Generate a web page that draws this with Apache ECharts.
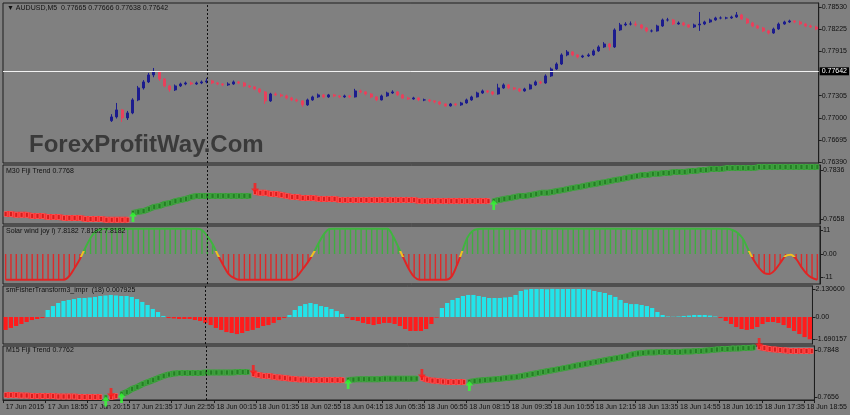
<!DOCTYPE html>
<html><head><meta charset="utf-8">
<script src="https://cdn.jsdelivr.net/npm/echarts@6/dist/echarts.min.js"></script>
<style>html,body{margin:0;padding:0;background:#808080;}#c{width:850px;height:415px;}</style>
</head><body><div id="c"></div>
<script>
// ---------- data ----------
const barCount = 154;            // 10-minute bars from 17 Jun 17:35
const startDay = 17, startMinute = 17 * 60 + 35, stepMinutes = 10;
const xTickLabels = ['17 Jun 2015','17 Jun 18:55','17 Jun 20:15','17 Jun 21:35','17 Jun 22:55','18 Jun 00:15','18 Jun 01:35','18 Jun 02:55','18 Jun 04:15','18 Jun 05:35','18 Jun 06:55','18 Jun 08:15','18 Jun 09:35','18 Jun 10:55','18 Jun 12:15','18 Jun 13:35','18 Jun 14:55','18 Jun 16:15','18 Jun 17:35','18 Jun 18:55'];
const labelEvery = 8;
const cursorBar = 38;

// AUDUSD M5 candles [open, close, low, high], first candle at bar 20
const candleStart = 20;
const candles = [
[0.76960,0.77012,0.76943,0.77050],[0.77012,0.77109,0.76990,0.77205],[0.77109,0.76998,0.76943,0.77120],[0.76998,0.77067,0.76970,0.77095],
[0.77067,0.77247,0.77050,0.77270],[0.77247,0.77412,0.77230,0.77440],[0.77412,0.77495,0.77390,0.77520],[0.77495,0.77592,0.77480,0.77620],
[0.77592,0.77633,0.77560,0.77688],[0.77633,0.77536,0.77510,0.77650],[0.77536,0.77440,0.77420,0.77550],[0.77440,0.77385,0.77360,0.77455],
[0.77385,0.77440,0.77370,0.77460],[0.77440,0.77467,0.77425,0.77485],[0.77467,0.77481,0.77450,0.77500],[0.77481,0.77467,0.77450,0.77500],
[0.77467,0.77481,0.77455,0.77500],[0.77481,0.77495,0.77465,0.77515],[0.77495,0.77509,0.77475,0.77545],[0.77509,0.77481,0.77465,0.77525],
[0.77481,0.77467,0.77450,0.77495],[0.77467,0.77454,0.77435,0.77480],[0.77454,0.77467,0.77440,0.77490],[0.77467,0.77495,0.77455,0.77515],
[0.77495,0.77481,0.77465,0.77510],[0.77481,0.77440,0.77425,0.77495],[0.77440,0.77426,0.77410,0.77455],[0.77426,0.77398,0.77380,0.77440],
[0.77398,0.77357,0.77340,0.77410],[0.77357,0.77233,0.77191,0.77370],[0.77233,0.77329,0.77220,0.77345],[0.77329,0.77316,0.77300,0.77350],
[0.77316,0.77302,0.77285,0.77335],[0.77302,0.77274,0.77255,0.77320],[0.77274,0.77247,0.77230,0.77290],[0.77247,0.77233,0.77215,0.77265],
[0.77233,0.77178,0.77150,0.77245],[0.77178,0.77247,0.77165,0.77265],[0.77247,0.77288,0.77235,0.77305],[0.77288,0.77316,0.77275,0.77335],
[0.77316,0.77288,0.77270,0.77330],[0.77288,0.77316,0.77275,0.77330],[0.77316,0.77302,0.77285,0.77330],[0.77302,0.77288,0.77270,0.77315],
[0.77288,0.77302,0.77275,0.77320],[0.77302,0.77288,0.77270,0.77315],[0.77288,0.77371,0.77280,0.77400],[0.77371,0.77357,0.77340,0.77390],
[0.77357,0.77329,0.77310,0.77370],[0.77329,0.77288,0.77270,0.77340],[0.77288,0.77247,0.77230,0.77300],[0.77247,0.77302,0.77240,0.77320],
[0.77302,0.77343,0.77290,0.77360],[0.77343,0.77357,0.77330,0.77380],[0.77357,0.77316,0.77300,0.77370],[0.77316,0.77274,0.77260,0.77330],
[0.77274,0.77260,0.77245,0.77290],[0.77260,0.77274,0.77250,0.77290],[0.77274,0.77247,0.77230,0.77285],[0.77247,0.77247,0.77230,0.77265],
[0.77247,0.77233,0.77215,0.77260],[0.77233,0.77219,0.77200,0.77245],[0.77219,0.77191,0.77175,0.77230],[0.77191,0.77164,0.77150,0.77200],
[0.77164,0.77191,0.77155,0.77205],[0.77191,0.77178,0.77160,0.77205],[0.77178,0.77205,0.77165,0.77220],[0.77205,0.77247,0.77195,0.77265],
[0.77247,0.77288,0.77235,0.77305],[0.77288,0.77343,0.77280,0.77360],[0.77343,0.77371,0.77330,0.77390],[0.77371,0.77357,0.77340,0.77385],
[0.77357,0.77329,0.77310,0.77370],[0.77329,0.77412,0.77320,0.77470],[0.77412,0.77454,0.77400,0.77475],[0.77454,0.77412,0.77395,0.77465],
[0.77412,0.77398,0.77380,0.77425],[0.77398,0.77371,0.77355,0.77410],[0.77371,0.77398,0.77360,0.77415],[0.77398,0.77454,0.77390,0.77470],
[0.77454,0.77495,0.77440,0.77515],[0.77495,0.77481,0.77465,0.77510],[0.77481,0.77578,0.77470,0.77600],[0.77578,0.77674,0.77565,0.77695],
[0.77674,0.77743,0.77660,0.77765],[0.77743,0.77868,0.77730,0.77890],[0.77868,0.77909,0.77850,0.77935],[0.77909,0.77868,0.77850,0.77920],
[0.77868,0.77840,0.77820,0.77880],[0.77840,0.77854,0.77825,0.77870],[0.77854,0.77868,0.77840,0.77890],[0.77868,0.77923,0.77855,0.77945],
[0.77923,0.77978,0.77910,0.78000],[0.77978,0.78019,0.77965,0.78045],[0.78019,0.77978,0.77930,0.78030],[0.77978,0.78213,0.77965,0.78235],
[0.78213,0.78282,0.78200,0.78310],[0.78282,0.78295,0.78265,0.78320],[0.78295,0.78295,0.78275,0.78330],[0.78295,0.78282,0.78260,0.78330],
[0.78282,0.78240,0.78220,0.78295],[0.78240,0.78199,0.78180,0.78255],[0.78199,0.78199,0.78180,0.78220],[0.78199,0.78268,0.78190,0.78285],
[0.78268,0.78351,0.78255,0.78370],[0.78351,0.78351,0.78330,0.78380],[0.78351,0.78295,0.78280,0.78365],[0.78295,0.78309,0.78285,0.78330],
[0.78309,0.78282,0.78265,0.78325],[0.78282,0.78254,0.78240,0.78295],[0.78254,0.78282,0.78240,0.78300],[0.78282,0.78295,0.78200,0.78461],
[0.78295,0.78323,0.78280,0.78340],[0.78323,0.78351,0.78310,0.78370],[0.78351,0.78378,0.78340,0.78395],[0.78378,0.78378,0.78360,0.78400],
[0.78378,0.78378,0.78360,0.78395],[0.78378,0.78392,0.78365,0.78410],[0.78392,0.78420,0.78380,0.78460],[0.78420,0.78364,0.78350,0.78435],
[0.78364,0.78309,0.78295,0.78380],[0.78309,0.78268,0.78250,0.78325],[0.78268,0.78240,0.78225,0.78285],[0.78240,0.78199,0.78185,0.78255],
[0.78199,0.78171,0.78150,0.78215],[0.78171,0.78226,0.78160,0.78245],[0.78226,0.78295,0.78215,0.78315],[0.78295,0.78323,0.78285,0.78340],
[0.78323,0.78337,0.78310,0.78355],[0.78337,0.78323,0.78305,0.78350],[0.78323,0.78295,0.78280,0.78340],[0.78295,0.78268,0.78250,0.78310],
[0.78268,0.78254,0.78240,0.78285],[0.78254,0.78226,0.78210,0.78270]
];
const lastPrice = 0.77642;
const mainYTicks = [0.78530,0.78225,0.77915,0.77305,0.77000,0.76695,0.76390];

// M30 Fiji Trend
const fiji30 = [
0.7676,0.7676,0.7673,0.7673,0.7673,0.7669,0.7669,0.7669,0.7665,0.7665,0.7665,0.7662,0.7662,
0.7662,0.7662,0.7658,0.7658,0.7658,0.7658,0.7655,0.7655,0.7655,0.7655,0.7655,
0.7680,0.7684,0.7687,0.7694,0.7702,0.7705,0.7713,0.7716,0.7723,0.7727,0.7731,
0.7738,0.7742,0.7742,0.7742,0.7742,0.7742,0.7742,0.7742,0.7742,0.7742,0.7742,0.7742,
0.7756,0.7753,0.7753,0.7749,0.7749,0.7745,
0.7742,0.7738,0.7738,0.7734,0.7734,0.7734,0.7731,0.7731,
0.7731,0.7731,0.7727,0.7727,0.7727,0.7727,0.7727,0.7727,0.7727,0.7727,0.7727,0.7727,0.7727,0.7727,0.7727,0.7727,0.7727,
0.7723,0.7723,0.7723,0.7723,0.7723,0.7723,0.7723,0.7723,0.7723,0.7723,0.7723,0.7723,0.7723,0.7723,
0.7723,
0.7727,0.7731,0.7734,0.7738,0.7742,0.7742,0.7745,
0.7749,0.7753,0.7753,0.7756,0.7760,0.7763,0.7767,
0.7771,0.7774,0.7778,0.7782,0.7785,0.7789,0.7792,0.7796,0.7800,
0.7803,0.7807,0.7811,0.7814,0.7818,0.7818,0.7822,0.7822,0.7825,0.7825,
0.7829,0.7829,0.7829,0.7832,0.7832,0.7836,0.7836,0.7840,0.7840,0.7840,
0.7843,0.7843,0.7843,0.7843,0.7843,0.7843,
0.7847,0.7847,0.7847,0.7847,0.7847,0.7847,0.7847,0.7847,0.7847,0.7847,0.7847,0.7847
];
const fiji30StartDir = 'down';
const fiji30Signals = [[24,'up'],[47,'down'],[92,'up']];
const fiji30YTicks = [0.7836, 0.7658];

// Solar wind joy
const solar = [
-12,-12,-12,-12,-12,-12,-12,-12,-12,-12,-12,-12,
-10.3,-6.5,-2.3,2.8,7.5,10.7,11.7,
11.8,11.8,11.8,11.8,11.8,11.8,11.8,11.8,11.8,11.8,11.8,11.8,11.8,11.8,11.8,11.8,11.8,11.8,
11.2,8.4,4.7,-0.5,-5.1,-9.3,-11.2,
-12,-12,-12,-12,-12,-12,-12,-12,-12,-12,-12,
-10.3,-7.0,-3.7,0.3,5.1,9.3,11.7,
11.8,11.8,11.8,11.8,11.8,11.8,11.8,11.8,11.8,11.8,11.8,
8.4,3.3,-1.9,-7.0,-10.7,
-12,-12,-12,-12,-12,-12,
-10.7,-5.6,0.9,7.5,10.7,11.7,
11.8,11.8,11.8,11.8,11.8,11.8,11.8,11.8,11.8,11.8,11.8,11.8,11.8,11.8,11.8,11.8,11.8,11.8,11.8,11.8,11.8,11.8,11.8,11.8,
11.8,11.8,11.8,11.8,11.8,11.8,11.8,11.8,11.8,11.8,11.8,11.8,11.8,11.8,11.8,11.8,11.8,11.8,11.8,11.8,11.8,11.8,11.8,
11.2,9.8,7.0,1.9,-2.8,-6.5,-8.9,-9.3,-7.5,-4.2,-0.9,-0.3,-2.3,-6.1,-9.3,-11.2,-12
];
const solarYTicks = [11, 0, -11];
const solarYLabels = ['11', '0.00', '-11'];

// smFisherTransform3_impr (18)
const fisher = [
-0.98,-0.83,-0.68,-0.53,-0.38,-0.23,-0.15,-0.08,
0.53,0.83,1.06,1.21,1.29,1.36,1.44,1.44,1.48,1.52,1.59,1.63,1.67,1.63,1.59,1.59,1.52,1.36,1.14,0.91,0.61,0.38,0.08,
-0.08,-0.11,-0.15,-0.15,-0.15,-0.23,-0.30,-0.45,-0.61,-0.83,-0.98,-1.14,-1.21,-1.29,-1.21,-1.06,-0.98,-0.83,-0.68,-0.61,-0.45,-0.23,-0.08,
0.15,0.53,0.83,0.98,1.06,0.98,0.83,0.76,0.61,0.45,0.23,
-0.08,-0.23,-0.30,-0.45,-0.53,-0.61,-0.53,-0.45,-0.45,-0.53,-0.68,-0.91,-1.06,-1.06,-1.06,-0.91,-0.53,-0.05,
0.68,1.06,1.29,1.44,1.59,1.67,1.67,1.59,1.52,1.44,1.44,1.44,1.48,1.52,1.67,1.97,2.08,2.12,
2.12,2.12,2.10,2.1306,2.12,2.12,2.12,2.12,2.12,2.12,
2.08,1.97,1.89,1.82,1.67,1.52,1.29,1.06,0.98,0.98,0.91,0.83,0.68,0.38,0.15,0.04,0.02,0.04,0.08,0.11,0.15,0.15,0.15,0.11,0.04,
-0.08,-0.30,-0.53,-0.76,-0.91,-0.98,-0.91,-0.76,-0.53,-0.38,-0.38,-0.45,-0.61,-0.83,-1.06,-1.29,-1.52,-1.690157
];
const fisherYTicks = [2.130600, 0, -1.690157];
const fisherYLabels = ['2.130600', '0.00', '-1.690157'];

// M15 Fiji Trend
const fiji15 = [
0.7664,0.7664,0.7664,0.7662,0.7662,0.7660,0.7660,0.7660,0.7660,0.7660,0.7658,0.7658,0.7658,0.7658,0.7656,0.7656,0.7656,0.7656,0.7656,
0.7654,0.7656,0.7660,0.7668,0.7676,0.7689,0.7697,0.7709,0.7717,0.7725,0.7734,0.7742,0.7748,0.7752,0.7754,
0.7754,0.7754,0.7754,0.7754,0.7756,0.7756,0.7756,0.7756,0.7756,0.7756,0.7758,0.7758,0.7758,
0.7750,0.7746,0.7742,0.7742,0.7738,0.7736,0.7734,0.7731,0.7729,
0.7727,0.7727,0.7725,0.7725,0.7725,0.7725,0.7725,0.7725,0.7725,
0.7725,0.7727,0.7729,0.7729,0.7729,0.7729,0.7729,0.7731,0.7731,0.7731,0.7731,0.7731,0.7731,0.7731,
0.7734,0.7727,0.7723,0.7721,0.7719,0.7717,0.7717,0.7717,0.7717,
0.7717,0.7721,0.7723,0.7725,0.7727,0.7729,0.7731,0.7734,0.7736,0.7738,0.7742,0.7746,0.7750,0.7754,0.7758,0.7762,0.7766,
0.7770,0.7774,0.7778,0.7783,0.7787,0.7791,0.7795,0.7799,0.7803,0.7807,0.7811,0.7815,0.7819,0.7823,0.7830,0.7834,0.7836,
0.7838,0.7838,0.7840,0.7840,0.7840,0.7840,0.7840,0.7842,0.7842,0.7844,0.7844,0.7846,0.7848,0.7850,0.7852,0.7852,0.7854,0.7854,
0.7856,0.7856,0.7858,0.7860,0.7856,0.7852,0.7850,0.7848,0.7846,0.7844,0.7844,0.7844,0.7844,0.7844
];
const fiji15StartDir = 'down';
const fiji15Signals = [[19,'up'],[20,'down'],[22,'up'],[47,'down'],[65,'up'],[79,'down'],[88,'up'],[143,'down']];
const fiji15YTicks = [0.7848, 0.7656];

// ---------- build ----------
const MON = 'Jun';
const cats = [];
for (let i = 0; i < barCount; i++) {
  let m = startMinute + i * stepMinutes, d = startDay;
  while (m >= 1440) { m -= 1440; d++; }
  const hh = String(Math.floor(m / 60)).padStart(2, '0'), mm = String(m % 60).padStart(2, '0');
  cats.push(d + ' ' + MON + ' ' + hh + ':' + mm);
}
const candleData = cats.map((c, i) => i < candleStart ? '-' : candles[i - candleStart]);

function splitTrend(values, startDir, signals) {
  const up = values.map(() => '-'), dn = values.map(() => '-'), arrows = [];
  let dir = startDir, s = 0;
  values.forEach((v, i) => {
    if (s < signals.length && signals[s][0] === i) {
      dir = signals[s][1]; s++;
      arrows.push({ value: [i, v], dir: dir });
    }
    if (dir === 'up') up[i] = v; else dn[i] = v;
  });
  return { up, dn, arrows };
}
const t30 = splitTrend(fiji30, fiji30StartDir, fiji30Signals);
const t15 = splitTrend(fiji15, fiji15StartDir, fiji15Signals);

const FONT = 'Liberation Sans';
const TXT = '#101010';
const GREEN = '#379c37', GREEN_D = '#247f24', RED = '#ff3030', RED_D = '#d81c1c';
const ARROW = 'path://M4,0 L8,4.5 L5.4,4.5 L5.4,10 L2.6,10 L2.6,4.5 L0,4.5 Z';

const grids = [
  { top: 3, height: 160 },
  { top: 165, height: 59 },
  { top: 226, height: 58 },
  { top: 286, height: 58 },
  { top: 346, height: 54 }
].map(g => Object.assign({ left: 3, right: 30, show: true, borderColor: '#1e1e1e', borderWidth: 1, backgroundColor: '#808080', containLabel: false }, g));

const xAxes = grids.map((g, k) => ({
  type: 'category', gridIndex: k, data: cats, boundaryGap: true,
  axisLine: { show: k === 4, lineStyle: { color: '#1e1e1e' } },
  axisTick: { show: k === 4, interval: labelEvery - 1, length: 3, lineStyle: { color: '#1e1e1e' } },
  axisLabel: {
    show: k === 4, interval: labelEvery - 1, align: 'left', margin: 4,
    color: TXT, fontSize: 7, fontFamily: FONT,
    formatter: (v, idx) => xTickLabels[Math.round(idx / labelEvery)] || ''
  },
  splitLine: { show: false }
}));

function yAx(k, min, max, ticks, labelsFn) {
  return {
    type: 'value', gridIndex: k, position: 'right', min: min, max: max, scale: true,
    axisLine: { show: true, lineStyle: { color: '#1e1e1e' } },
    axisTick: { show: true, length: 3, customValues: ticks, lineStyle: { color: '#1e1e1e' } },
    axisLabel: { show: true, customValues: ticks, margin: 3, color: TXT, fontSize: 7, fontFamily: FONT,
      formatter: v => labelsFn(v) },
    splitLine: { show: false }
  };
}
function lookup(ticks, labels) {
  return v => { const k = ticks.findIndex(t => Math.abs(t - v) < 1e-7); return k >= 0 ? labels[k] : ''; };
}
const yAxes = [
  yAx(0, 0.76376, 0.78585, mainYTicks, v => v.toFixed(5)),
  yAx(1, 0.76398, 0.78542, fiji30YTicks, v => v.toFixed(4)),
  yAx(2, -14.02, 13.08, solarYTicks, lookup(solarYTicks, solarYLabels)),
  yAx(3, -2.045, 2.348, fisherYTicks, lookup(fisherYTicks, fisherYLabels)),
  yAx(4, 0.76437, 0.78644, fiji15YTicks, v => v.toFixed(4))
];

const cursorLine = {
  silent: true, symbol: 'none', animation: false,
  lineStyle: { color: '#101010', type: [2, 2], width: 1 },
  label: { show: false },
  data: [{ xAxis: cats[cursorBar] }]
};

function fijiSeries(k, t) {
  const base = {
    type: 'line', xAxisIndex: k, yAxisIndex: k, showSymbol: true, showAllSymbol: true,
    symbol: 'rect', symbolSize: [3, 5], connectNulls: false, animation: false, z: 3
  };
  return [
    Object.assign({}, base, { name: 'dn' + k, data: t.dn, lineStyle: { color: RED, width: 6 }, itemStyle: { color: RED_D, borderColor: '#ff6a6a', borderWidth: 0.6 } }),
    Object.assign({}, base, { name: 'up' + k, data: t.up, lineStyle: { color: GREEN, width: 6 }, itemStyle: { color: GREEN_D, borderColor: '#4fb04f', borderWidth: 0.6 } }),
    {
      type: 'scatter', xAxisIndex: k, yAxisIndex: k, animation: false, z: 5,
      symbol: ARROW, symbolSize: [8, 10], markLine: cursorLine,
      data: t.arrows.map(a => ({
        value: a.value,
        symbolRotate: a.dir === 'up' ? 0 : 180,
        symbolOffset: a.dir === 'up' ? [0, 4] : [0, -4],
        itemStyle: { color: a.dir === 'up' ? '#33ff33' : '#ff1a1a' }
      }))
    }
  ];
}

const series = [
  {
    type: 'candlestick', xAxisIndex: 0, yAxisIndex: 0, data: candleData, barWidth: 2.5, animation: false,
    itemStyle: { color: '#1c1c8e', color0: '#e8405c', borderColor: '#1c1c8e', borderColor0: '#e8405c', borderWidth: 1 },
    markLine: cursorLine
  },
  {
    type: 'line', xAxisIndex: 0, yAxisIndex: 0, data: [], animation: false, z: 1,
    markLine: {
      silent: true, symbol: 'none', animation: false, precision: 5,
      data: [
        { yAxis: lastPrice, lineStyle: { color: '#f2f2f2', type: 'solid', width: 1 },
          label: { show: true, position: 'end', distance: 1, formatter: lastPrice.toFixed(5), color: '#ffffff', backgroundColor: '#000000',
            padding: [1, 2, 0, 2], fontSize: 7, fontFamily: FONT } }
      ]
    }
  },
  ...fijiSeries(1, t30),
  {
    type: 'bar', xAxisIndex: 2, yAxisIndex: 2, barWidth: 1.4, animation: false,
    data: solar.map(v => ({ value: v, itemStyle: { color: v >= 0 ? '#3fae3f' : '#dd2a2a' } })),
    markLine: cursorLine
  },
  {
    id: 'solarLine', type: 'line', xAxisIndex: 2, yAxisIndex: 2, data: solar, showSymbol: false, smooth: 0.3,
    lineStyle: { width: 2 }, animation: false, z: 4
  },
  {
    type: 'bar', xAxisIndex: 3, yAxisIndex: 3, barCategoryGap: '20%', animation: false,
    data: fisher.map(v => ({ value: v, itemStyle: { color: v >= 0 ? '#22e4ea' : '#ff1c1c' } })),
    markLine: cursorLine
  },
  ...fijiSeries(4, t15)
];
const solarLineIndex = series.findIndex(s => s.id === 'solarLine');

const chart = echarts.init(document.getElementById('c'), null, { renderer: 'canvas' });
const txt = (left, top, text, font) => ({ type: 'text', left: left, top: top, z: 100, zlevel: 0, style: { text: text, font: font || '7px "Liberation Sans"', fill: TXT } });
chart.setOption({
  backgroundColor: '#808080',
  animation: false,
  grid: grids,
  xAxis: xAxes,
  yAxis: yAxes,
  visualMap: {
    show: false, type: 'piecewise', seriesIndex: solarLineIndex, dimension: 1,
    pieces: [
      { gt: 1.2, color: '#3fb43f' },
      { gte: -1.2, lte: 1.2, color: '#f0c020' },
      { lt: -1.2, color: '#e02424' }
    ]
  },
  series: series,
  graphic: [
    txt(7, 5, '\u25BC AUDUSD,M5  0.77665 0.77666 0.77638 0.77642'),
    { type: 'text', left: 29, top: 133, z: 100, style: { text: 'ForexProfitWay.Com', font: 'bold 24px "Liberation Sans"', fill: '#3a3a3a' } },
    txt(6, 168, 'M30 Fiji Trend 0.7768'),
    txt(6, 228, 'Solar wind joy i) 7.8182 7.8182 7.8182'),
    txt(6, 287, 'smFisherTransform3_impr  (18) 0.007925'),
    txt(6, 347, 'M15 Fiji Trend 0.7762')
  ]
});
</script></body></html>
